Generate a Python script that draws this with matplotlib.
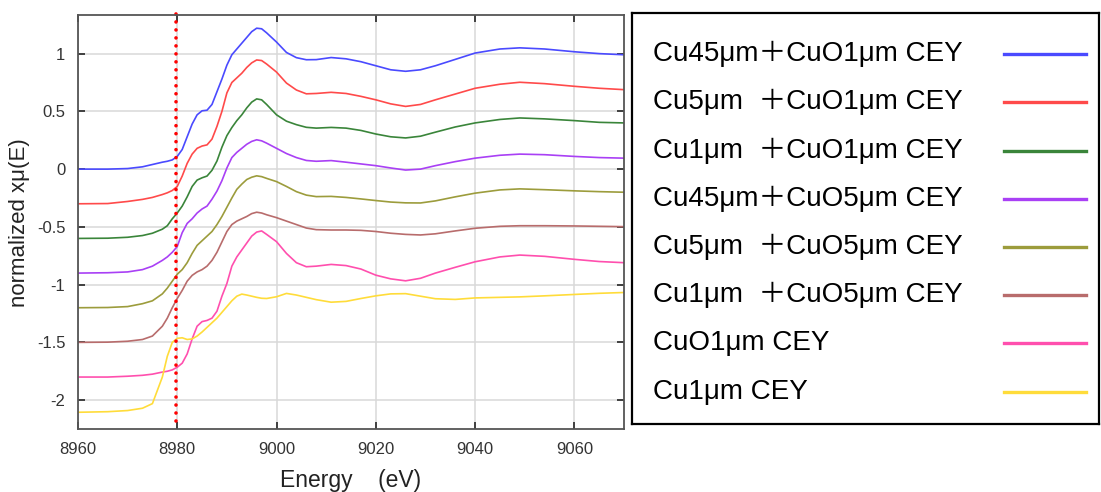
import matplotlib
matplotlib.use("Agg")
import matplotlib.pyplot as plt
import numpy as np

plt.rcParams['font.family'] = ['Liberation Sans', 'Noto Sans CJK JP']

energy = [8960, 8966, 8970, 8973, 8975, 8977, 8978, 8979, 8980, 8981,
          8982, 8983, 8984, 8985, 8986, 8987, 8988, 8989, 8990, 8991,
          8992, 8993, 8994, 8995, 8996, 8997, 8998, 9000, 9002, 9004,
          9006, 9008, 9011, 9014, 9017, 9020, 9023, 9026, 9029, 9032,
          9036, 9040, 9045, 9049, 9054, 9060, 9065, 9070]

cu45_cuo1 = [0.0, 0.0, 0.005, 0.02, 0.04, 0.06, 0.068, 0.08, 0.11, 0.17,
             0.28, 0.39, 0.47, 0.505, 0.51, 0.56, 0.67, 0.78, 0.9, 0.99,
             1.04, 1.09, 1.14, 1.19, 1.22, 1.215, 1.18, 1.10, 1.01, 0.965,
             0.947, 0.948, 0.966, 0.955, 0.93, 0.895, 0.86, 0.847, 0.86, 0.895,
             0.95, 1.005, 1.04, 1.05, 1.04, 1.016, 1.0, 0.99]
cu5_cuo1 = [-0.3, -0.298, -0.28, -0.262, -0.245, -0.22, -0.205, -0.185, -0.15, -0.06,
            0.05, 0.13, 0.18, 0.2, 0.21, 0.26, 0.37, 0.5, 0.66, 0.75,
            0.79, 0.83, 0.88, 0.92, 0.945, 0.94, 0.91, 0.84, 0.745, 0.685,
            0.652, 0.655, 0.665, 0.655, 0.63, 0.6, 0.565, 0.543, 0.56, 0.6,
            0.65, 0.70, 0.735, 0.752, 0.74, 0.717, 0.70, 0.688]
cu1_cuo1 = [-0.6, -0.598, -0.59, -0.575, -0.555, -0.52, -0.49, -0.43, -0.38, -0.32,
            -0.24, -0.15, -0.095, -0.075, -0.06, -0.01, 0.07, 0.19, 0.29, 0.36,
            0.42, 0.47, 0.53, 0.58, 0.608, 0.6, 0.56, 0.47, 0.415, 0.385,
            0.362, 0.355, 0.361, 0.355, 0.335, 0.304, 0.28, 0.27, 0.285, 0.32,
            0.365, 0.40, 0.43, 0.443, 0.435, 0.42, 0.405, 0.40]
cu45_cuo5 = [-0.9, -0.897, -0.89, -0.87, -0.84, -0.79, -0.76, -0.72, -0.67, -0.55,
             -0.47, -0.43, -0.38, -0.345, -0.32, -0.26, -0.19, -0.1, 0.01, 0.1,
             0.145, 0.18, 0.215, 0.24, 0.254, 0.245, 0.225, 0.18, 0.135, 0.1,
             0.075, 0.068, 0.074, 0.06, 0.045, 0.03, 0.01, -0.008, 0.0, 0.03,
             0.065, 0.095, 0.12, 0.13, 0.125, 0.11, 0.1, 0.095]
cu5_cuo5 = [-1.2, -1.198, -1.19, -1.165, -1.14, -1.08, -1.03, -0.97, -0.91, -0.87,
            -0.81, -0.73, -0.66, -0.62, -0.58, -0.54, -0.48, -0.41, -0.33, -0.25,
            -0.175, -0.13, -0.09, -0.07, -0.058, -0.065, -0.08, -0.108, -0.15, -0.195,
            -0.225, -0.238, -0.236, -0.245, -0.258, -0.272, -0.285, -0.292, -0.293, -0.275,
            -0.24, -0.208, -0.18, -0.171, -0.178, -0.188, -0.195, -0.2]
cu1_cuo5 = [-1.5, -1.498, -1.49, -1.475, -1.445, -1.36, -1.29, -1.2, -1.12, -1.05,
            -0.97, -0.92, -0.89, -0.87, -0.84, -0.79, -0.72, -0.63, -0.54, -0.48,
            -0.45, -0.43, -0.41, -0.385, -0.373, -0.38, -0.395, -0.42, -0.45, -0.48,
            -0.51, -0.524, -0.527, -0.527, -0.53, -0.54, -0.555, -0.565, -0.57, -0.56,
            -0.535, -0.512, -0.495, -0.49, -0.49, -0.492, -0.495, -0.498]
cuo1 = [-1.8, -1.8, -1.793, -1.785, -1.775, -1.757, -1.75, -1.738, -1.715, -1.68,
        -1.6, -1.47, -1.36, -1.32, -1.31, -1.29, -1.23, -1.1, -0.99, -0.84,
        -0.76, -0.7, -0.64, -0.58, -0.545, -0.535, -0.565, -0.628, -0.73, -0.81,
        -0.845, -0.84, -0.825, -0.835, -0.865, -0.918, -0.95, -0.967, -0.945, -0.9,
        -0.85, -0.802, -0.76, -0.744, -0.755, -0.781, -0.8, -0.81]
cu1 = [-2.105, -2.1, -2.09, -2.07, -2.03, -1.8, -1.62, -1.5, -1.465, -1.46,
       -1.475, -1.47, -1.445, -1.41, -1.37, -1.33, -1.29, -1.24, -1.19, -1.14,
       -1.1, -1.082, -1.09, -1.1, -1.11, -1.118, -1.12, -1.105, -1.076, -1.09,
       -1.11, -1.13, -1.152, -1.145, -1.12, -1.097, -1.08, -1.078, -1.1, -1.122,
       -1.128, -1.115, -1.11, -1.106, -1.097, -1.085, -1.075, -1.068]

labels = ['Cu45μm＋CuO1μm CEY', 'Cu5μm  ＋CuO1μm CEY', 'Cu1μm  ＋CuO1μm CEY',
          'Cu45μm＋CuO5μm CEY', 'Cu5μm  ＋CuO5μm CEY', 'Cu1μm  ＋CuO5μm CEY',
          'CuO1μm CEY', 'Cu1μm CEY']
colors = ['#4a4aff', '#ff4a4a', '#3a853a', '#a940f5', '#9c9c3c', '#b86c6c',
          '#ff4fae', '#ffdc3a']
series = [cu45_cuo1, cu5_cuo1, cu1_cuo1, cu45_cuo5, cu5_cuo5, cu1_cuo5, cuo1, cu1]

edge_energy = 8979.7

fig = plt.figure(figsize=(11.01, 4.92), dpi=100)
ax = fig.add_axes([0.0708, 0.128, 0.496, 0.8405])

for vals, col in zip(series, colors):
    ax.plot(energy, vals, color=col, lw=1.2)

ax.axvline(edge_energy, ymin=0.02, ymax=1.005, color='red', lw=2.6,
           linestyle=(0, (0.01, 2.2)), dash_capstyle='round', clip_on=False)

ax.set_xlim(8960, 9070)
ax.set_ylim(-2.25, 1.33)
ax.set_xticks([8960, 8980, 9000, 9020, 9040, 9060])
ax.set_yticks([1, 0.5, 0, -0.5, -1, -1.5, -2])
ax.set_yticklabels(['1', '0.5', '0', '-0.5', '-1', '-1.5', '-2'])
ax.grid(True, color='#d9d9d9', lw=1.1)
ax.set_axisbelow(True)
ax.tick_params(direction='in', top=True, right=True, length=5, width=1.3,
               color='#333333', labelsize=12, labelcolor='#333333', pad=9)
for s in ax.spines.values():
    s.set_color('#555555')
    s.set_linewidth(1.3)
ax.set_xlabel('Energy    (eV)', fontsize=16.5, color='#222222', labelpad=9)
ax.set_ylabel('normalized xμ(E)', fontsize=16, color='#222222', labelpad=5)

# legend drawn as its own boxed panel
lax = fig.add_axes([0.574, 0.1382, 0.424, 0.8354])
lax.set_xlim(0, 1)
lax.set_ylim(0, 1)
lax.set_xticks([])
lax.set_yticks([])
for s in lax.spines.values():
    s.set_color('black')
    s.set_linewidth(1.6)
for i, (lab, col) in enumerate(zip(labels, colors)):
    y = 1 - (0.1 + i * 0.1173)
    lax.text(0.045, y, lab, fontsize=20, va='center', ha='left', color='black')
    lax.plot([0.797, 0.972], [y, y], color=col, lw=2.4)

fig.savefig('out.png', dpi=100)
